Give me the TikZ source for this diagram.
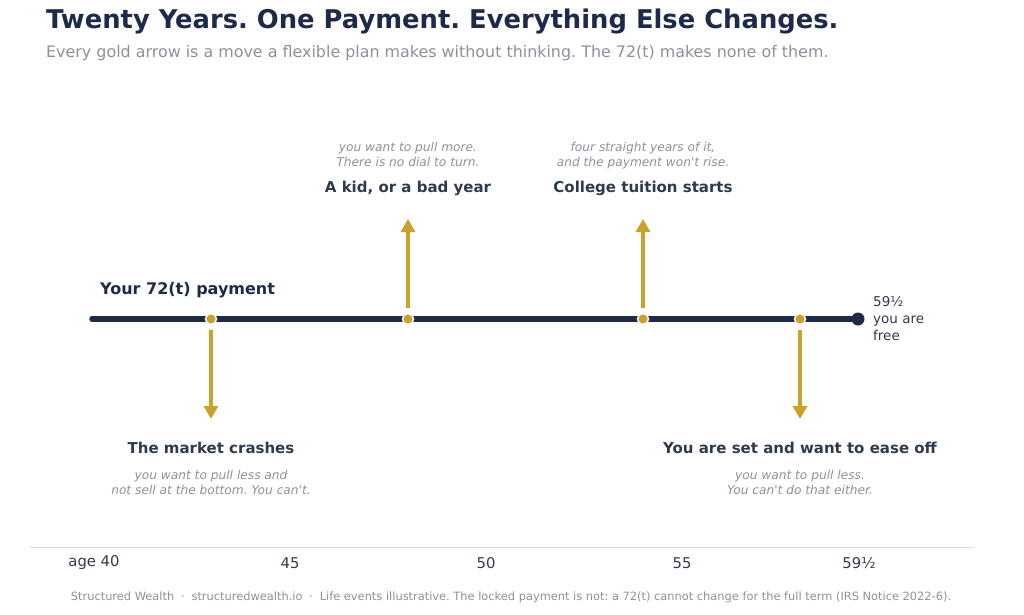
\documentclass[tikz,border=0pt]{standalone}
\usepackage{fontspec}
\setmainfont{DejaVu Sans}
\usetikzlibrary{arrows.meta}
\frenchspacing
\definecolor{navy}{HTML}{1E2A4A}
\definecolor{ink}{HTML}{2E3A4E}
\definecolor{muted}{HTML}{8A919C}
\definecolor{gold}{HTML}{C9A227}
\definecolor{rule}{HTML}{D8DBE0}
\tikzset{
  evt/.style={font=\bfseries\fontsize{15}{17}\selectfont, text=ink, anchor=center, inner sep=0pt},
  note/.style={font=\itshape\fontsize{12.2}{15.5}\selectfont, text=muted, align=center, inner sep=0pt},
  tick/.style={font=\fontsize{14.8}{17}\selectfont, text=ink, inner sep=0pt},
  goldarrow/.style={draw=gold, line width=3.6pt, -{Triangle[length=13pt,width=14pt]}},
  golddot/.style={circle, fill=gold, draw=white, line width=1.5pt, minimum size=11pt, inner sep=0pt},
}
\begin{document}
\begin{tikzpicture}[x=1pt,y=-1pt]
\useasboundingbox (0,0) rectangle (1024,614);
% title
\node[anchor=base west, inner sep=0pt, font=\bfseries\fontsize{25.8}{29}\selectfont, text=navy] (title) at (46,28) {Twenty Years. One Payment. Everything Else Changes.};
\node[anchor=base west, inner sep=0pt, font=\fontsize{15.9}{18}\selectfont, text=muted] (sub) at (46,57) {Every gold arrow is a move a flexible plan makes without thinking. The 72(t) makes none of them.};
% main line
\coordinate (start) at (92,319);
\node[circle, fill=navy, minimum size=13pt, inner sep=0pt] (end) at (858,319) {};
\draw[navy, line width=5.5pt, line cap=round] (start) -- (end.center);
\node[anchor=base west, inner sep=0pt, font=\bfseries\fontsize{16}{18}\selectfont, text=navy] (pay) at (100,294) {Your 72(t) payment};
% event dots
\node[golddot] (e1) at (211,319) {};
\node[golddot] (e2) at (408,319) {};
\node[golddot] (e3) at (643,319) {};
\node[golddot] (e4) at (800,319) {};
% arrow ends
\coordinate (a1) at (211,419);
\coordinate (a2) at (408,219);
\coordinate (a3) at (643,219);
\coordinate (a4) at (800,419);
\draw[goldarrow] ([yshift=-5pt]e1.south) -- (a1);
\draw[goldarrow] ([yshift=5pt]e2.north) -- (a2);
\draw[goldarrow] ([yshift=5pt]e3.north) -- (a3);
\draw[goldarrow] ([yshift=-5pt]e4.south) -- (a4);
% labels
\node[evt] (l2) at (408,188) {A kid, or a bad year};
\node[note, anchor=base] (n2) at (408,166.5) {you want to pull more.\\There is no dial to turn.};
\node[evt] (l3) at (643,188) {College tuition starts};
\node[note, anchor=base] (n3) at (643,166.5) {four straight years of it,\\and the payment won\textquotesingle t rise.};
\node[evt] (l1) at (211,448) {The market crashes};
\node[note, anchor=base] (n1) at (211,494.5) {you want to pull less and\\not sell at the bottom. You can\textquotesingle t.};
\node[evt] (l4) at (800,448) {You are set and want to ease off};
\node[note, anchor=base] (n4) at (800,494.5) {you want to pull less.\\You can\textquotesingle t do that either.};
% free
\node[anchor=base west, align=left, inner sep=0pt, font=\fontsize{13.5}{17}\selectfont, text=ink] (free) at (873,340) {59½\\you are\\free};
% axis
\coordinate (r1) at (30,547);
\coordinate (r2) at (973,547);
\draw[rule, line width=1pt] (r1) -- (r2);
\node[tick] (t40) at (94,563) {age 40};
\node[tick] (t45) at (290,563) {45};
\node[tick] (t50) at (486,563) {50};
\node[tick] (t55) at (682,563) {55};
\node[tick] (t59) at (859,563) {59½};
% footer
\node[inner sep=0pt, font=\fontsize{11.4}{13}\selectfont, text=muted] (foot) at (511,597) {Structured Wealth\hspace{0.6em}·\hspace{0.6em}structuredwealth.io\hspace{0.6em}·\hspace{0.6em}Life events illustrative. The locked payment is not: a 72(t) cannot change for the full term (IRS Notice 2022-6).};
\end{tikzpicture}
\end{document}
